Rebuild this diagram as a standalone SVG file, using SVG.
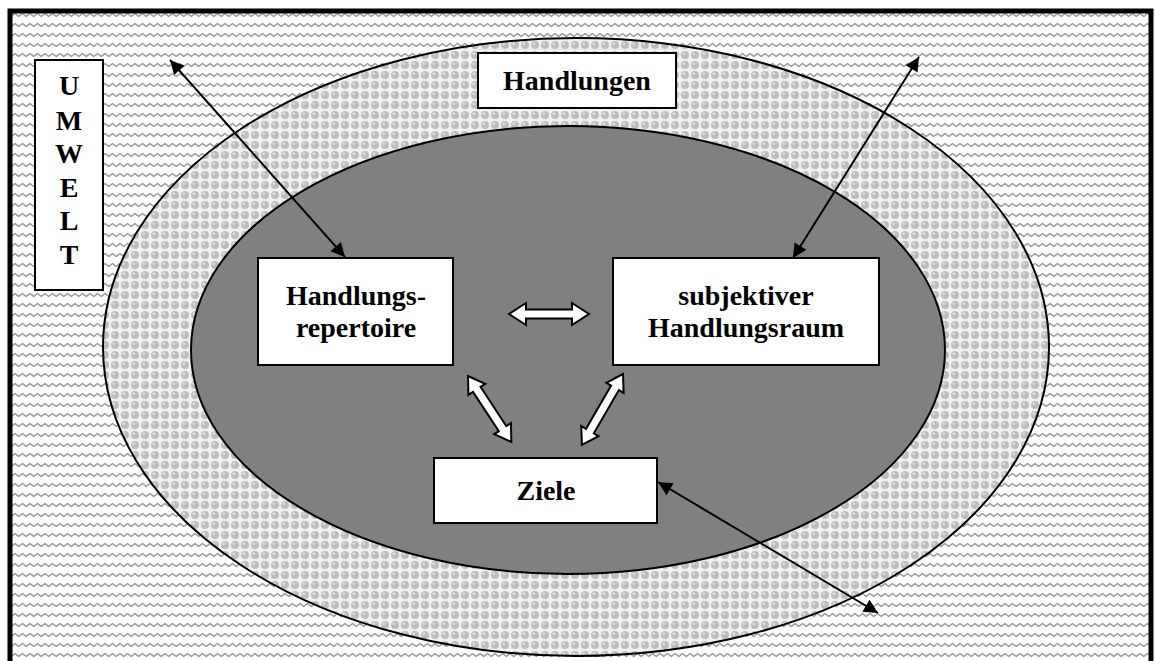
<svg xmlns="http://www.w3.org/2000/svg" width="1155" height="661" viewBox="0 0 1155 661">
<defs>
<pattern id="wave" x="0" y="0" width="15" height="10" patternUnits="userSpaceOnUse">
<rect width="15" height="10" fill="#ffffff"/>
<path d="M-3.75,6.5 L0,3.5 L3.75,6.5 L7.5,3.5 L11.25,6.5 L15,3.5 L18.75,6.5" fill="none" stroke="#9a9a9a" stroke-width="1.6" stroke-linejoin="round"/>
</pattern>
<pattern id="dots" x="0" y="0" width="10" height="10" patternUnits="userSpaceOnUse">
<rect width="10" height="10" fill="#f0f0f0"/>
<circle cx="5" cy="5" r="4" fill="#bdbdbd"/>
<circle cx="3.8" cy="3.8" r="1.2" fill="#e6e6e6"/>
</pattern>
<marker id="ah" viewBox="0 0 10 10" refX="10" refY="5" markerWidth="9" markerHeight="7" markerUnits="strokeWidth" orient="auto-start-reverse">
<path d="M0,0 L10,5 L0,10 Z" fill="#000"/>
</marker>
<style>
.box{fill:#fff;stroke:#000;stroke-width:2}
.t{font-family:"Liberation Serif","Times New Roman",serif;font-weight:bold;font-size:28px;fill:#000;text-anchor:middle}
.ln{stroke:#000;stroke-width:2;fill:none}
.ba{fill:#fff;stroke:#000;stroke-width:2;stroke-linejoin:miter}
</style>
</defs>
<g id="background">
<rect x="10" y="11" width="1141" height="660" fill="url(#wave)" stroke="#000" stroke-width="5"/>
</g>
<g id="outer-ellipse">
<ellipse cx="576" cy="347" rx="473" ry="309" fill="url(#dots)" stroke="#000" stroke-width="2"/>
</g>
<g id="inner-ellipse">
<ellipse cx="568" cy="350" rx="377" ry="224" fill="#808080" stroke="#000" stroke-width="2"/>
</g>
<g id="umwelt">
<rect class="box" x="35" y="60" width="68" height="230"/>
<text class="t" x="69" y="95">U</text>
<text class="t" x="69" y="130">M</text>
<text class="t" x="69" y="163">W</text>
<text class="t" x="69" y="197">E</text>
<text class="t" x="69" y="230">L</text>
<text class="t" x="69" y="264">T</text>
</g>
<g id="handlungen">
<rect class="box" x="478" y="53" width="198" height="55"/>
<text class="t" x="577" y="90">Handlungen</text>
</g>
<g id="repertoire">
<rect class="box" x="258" y="258" width="195" height="107"/>
<text class="t" x="356" y="305">Handlungs-</text>
<text class="t" x="356" y="337">repertoire</text>
</g>
<g id="handlungsraum">
<rect class="box" x="613" y="258" width="266" height="107"/>
<text class="t" x="746" y="305">subjektiver</text>
<text class="t" x="746" y="337">Handlungsraum</text>
</g>
<g id="ziele">
<rect class="box" x="434" y="458" width="223" height="65"/>
<text class="t" x="546" y="500">Ziele</text>
</g>
<g id="connectors">
<line class="ln" x1="170" y1="60" x2="345" y2="257" marker-start="url(#ah)" marker-end="url(#ah)"/>
<line class="ln" x1="919" y1="57" x2="793" y2="258" marker-start="url(#ah)" marker-end="url(#ah)"/>
<line class="ln" x1="658" y1="482" x2="878" y2="613" marker-start="url(#ah)" marker-end="url(#ah)"/>
<path class="ba" d="M509,314 L526,303 L526,309.5 L572,309.5 L572,303 L589,314 L572,325 L572,318.5 L526,318.5 L526,325 Z"/>
<path class="ba" transform="translate(468,376) rotate(56.7)" d="M0,0 L16,-10 L16,-4.5 L63,-4.5 L63,-10 L79,0 L63,10 L63,4.5 L16,4.5 L16,10 Z"/>
<path class="ba" transform="translate(623,374) rotate(120.1)" d="M0,0 L16,-10 L16,-4.5 L66,-4.5 L66,-10 L82,0 L66,10 L66,4.5 L16,4.5 L16,10 Z"/>
</g>
</svg>
